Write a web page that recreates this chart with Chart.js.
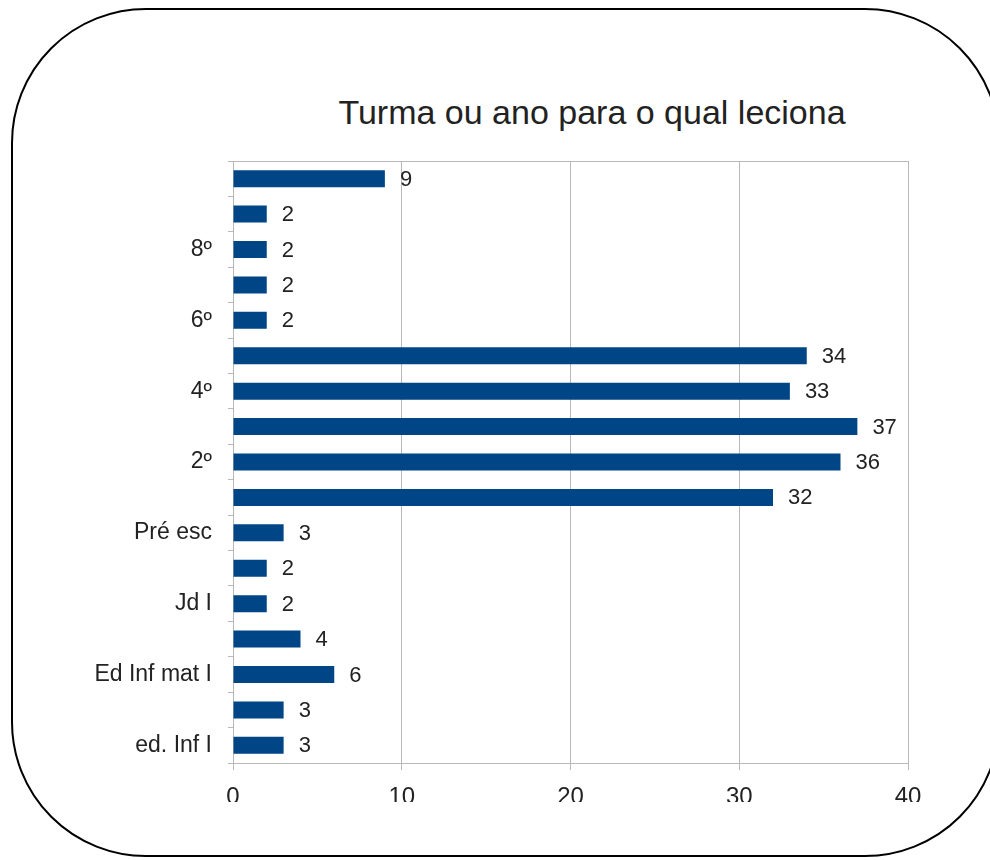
<!DOCTYPE html>
<html>
<head>
<meta charset="utf-8">
<script src="https://cdn.jsdelivr.net/npm/chart.js@4.4.1/dist/chart.umd.min.js"></script>
<style>
  html, body { margin: 0; padding: 0; background: #fff; }
  #wrap { position: relative; width: 990px; height: 860px; overflow: hidden; }
  #frame {
    position: absolute; left: 11px; top: 8px; width: 985px; height: 845px;
    border: 2px solid #000; border-radius: 135px;
  }
  #title {
    position: absolute; top: 93px; left: 592px; transform: translateX(-50%);
    font-family: "Liberation Sans", Arial, sans-serif; font-size: 34px; color: #222;
    white-space: nowrap;
  }
  canvas { position: absolute; left: 0; top: 0; }
</style>
</head>
<body>
<div id="wrap">
  <div id="frame"></div>
  <div id="title">Turma ou ano para o qual leciona</div>
  <canvas id="chart" width="990" height="860"></canvas>
</div>
<script>
// categorias de baixo para cima (só algumas aparecem no eixo)
const categorias = ['ed. Inf I', '', 'Ed Inf mat I', '', 'Jd I', '', 'Pré esc', '', '2º', '', '4º', '', '6º', '', '8º', '', ''];
const professores = [3, 3, 6, 4, 2, 2, 3, 32, 36, 37, 33, 34, 2, 2, 2, 2, 9];
const ticksX = [0, 10, 20, 30, 40];

const fonte = '"Liberation Sans", Arial, sans-serif';

// moldura da área, valores ao lado das barras e rótulos do eixo x (cortados embaixo)
const extras = {
  id: 'extras',
  beforeDatasetsDraw(chart) {
    const { ctx, chartArea: a } = chart;
    ctx.save();
    ctx.strokeStyle = '#b8b8b8';
    ctx.lineWidth = 1;
    ctx.strokeRect(a.left + 0.5, a.top + 0.5, a.right - a.left, a.bottom - a.top);
    ctx.restore();
  },
  afterDatasetsDraw(chart) {
    const { ctx } = chart;
    const meta = chart.getDatasetMeta(0);
    ctx.save();
    ctx.font = '22px ' + fonte;
    ctx.fillStyle = '#222';
    ctx.textBaseline = 'middle';
    ctx.textAlign = 'left';
    meta.data.forEach((bar, i) => {
      ctx.fillText(String(professores[i]), bar.x + 15, bar.y + 1);
    });
    ctx.restore();
  },
  afterDraw(chart) {
    const { ctx } = chart;
    const x = chart.scales.x;
    const base = chart.chartArea.bottom;
    ctx.save();
    ctx.beginPath();
    ctx.rect(0, base, chart.width, 39);
    ctx.clip();
    ctx.font = '24px ' + fonte;
    ctx.fillStyle = '#222';
    ctx.textAlign = 'center';
    ctx.textBaseline = 'alphabetic';
    ticksX.forEach(v => {
      ctx.fillText(String(v), x.getPixelForValue(v), base + 41);
    });
    ctx.restore();
  }
};

new Chart(document.getElementById('chart'), {
  type: 'bar',
  data: {
    labels: categorias,
    datasets: [{
      data: professores,
      backgroundColor: '#004586',
      borderWidth: 0,
      barPercentage: 0.48,
      categoryPercentage: 1
    }]
  },
  options: {
    indexAxis: 'y',
    responsive: false,
    animation: false,
    layout: { padding: { top: 161, right: 82, left: 0, bottom: 0 } },
    plugins: {
      legend: { display: false },
      tooltip: { enabled: false }
    },
    scales: {
      x: {
        min: 0,
        max: 40,
        afterBuildTicks(scale) {
          scale.ticks = ticksX.map(v => ({ value: v }));
        },
        afterFit(scale) { scale.height = 97; },
        grid: { color: '#b8b8b8', tickLength: 7, drawTicks: true },
        border: { color: '#b8b8b8' },
        ticks: { display: false }
      },
      y: {
        reverse: true,
        afterFit(scale) { scale.width = 233; },
        grid: { drawOnChartArea: false, offset: true, color: '#b8b8b8', tickLength: 5 },
        border: { color: '#b8b8b8' },
        ticks: {
          autoSkip: false,
          font: { family: fonte, size: 23 },
          color: '#222',
          padding: 16
        }
      }
    }
  },
  plugins: [extras]
});
</script>
</body>
</html>
